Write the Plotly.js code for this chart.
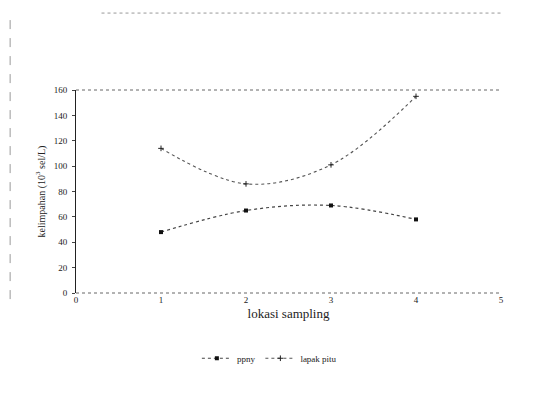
<!DOCTYPE html>
<html>
<head>
<meta charset="utf-8">
<script src="https://cdn.plot.ly/plotly-3.0.1.min.js"></script>
<style>html,body{margin:0;padding:0;background:#fff;}#chart{width:545px;height:394px;}</style>
</head>
<body>
<div id="chart"></div>
<script>
var lokasi = [1, 2, 3, 4];
var ppny = [48, 65, 69, 58];
var lapakPitu = [114, 86, 101, 155];
var xTicks = [0, 1, 2, 3, 4, 5];
var yTicks = [0, 20, 40, 60, 80, 100, 120, 140, 160];

var traces = [
  {x: lokasi, y: ppny, name: 'ppny', mode: 'lines+markers', line: {shape: 'spline', color: '#444', width: 1.2, dash: 'dot'},
   marker: {symbol: 'square', size: 4, color: '#111'}},
  {x: lokasi, y: lapakPitu, name: 'lapak pitu', mode: 'lines+markers', line: {shape: 'spline', color: '#555', width: 1.1, dash: 'dot'},
   marker: {symbol: 'cross-thin', size: 4, color: '#222', line: {color: '#222', width: 1}}}
];

var layout = {
  width: 545, height: 394,
  margin: {l: 76, r: 44, t: 90, b: 101},
  paper_bgcolor: '#fff', plot_bgcolor: '#fff',
  font: {family: 'Liberation Serif, serif', color: '#222', size: 9},
  showlegend: true,
  legend: {orientation: 'h', x: 0.455, xanchor: 'center', y: -0.25, yanchor: 'top', font: {size: 9}},
  xaxis: {range: [0, 5], tickvals: xTicks, ticktext: xTicks.map(String), showgrid: false, zeroline: false,
          showline: false, ticks: '', tickfont: {size: 9},
          title: {text: 'lokasi sampling', font: {size: 13}, standoff: 4}},
  yaxis: {range: [0, 160], tickvals: yTicks, ticktext: yTicks.map(String), showgrid: false, zeroline: false,
          showline: true, linecolor: '#222', linewidth: 1, ticks: 'outside', ticklen: 3, tickcolor: '#444', tickfont: {size: 9},
          ticklabelstandoff: 3,
          title: {text: 'kelimpahan (10<sup>3</sup> sel/L)', font: {size: 10}, standoff: 6}},
  shapes: [
    {type: 'line', xref: 'paper', yref: 'paper', x0: 0, x1: 1, y0: 1, y1: 1, line: {color: '#666', width: 1, dash: 'dot'}},
    {type: 'line', xref: 'paper', yref: 'paper', x0: 0, x1: 1, y0: 0, y1: 0, line: {color: '#666', width: 1, dash: 'dot'}},
    {type: 'line', xref: 'paper', yref: 'paper', x0: 0.06, x1: 1.0, y0: 1.379, y1: 1.379, line: {color: '#999', width: 1, dash: 'dot'}},
    {type: 'line', xref: 'paper', yref: 'paper', x0: -0.155, x1: -0.155, y0: -0.03, y1: 1.37, line: {color: '#999', width: 1, dash: 'dash'}}
  ]
};

Plotly.newPlot('chart', traces, layout, {displayModeBar: false, staticPlot: true});
</script>
</body>
</html>
